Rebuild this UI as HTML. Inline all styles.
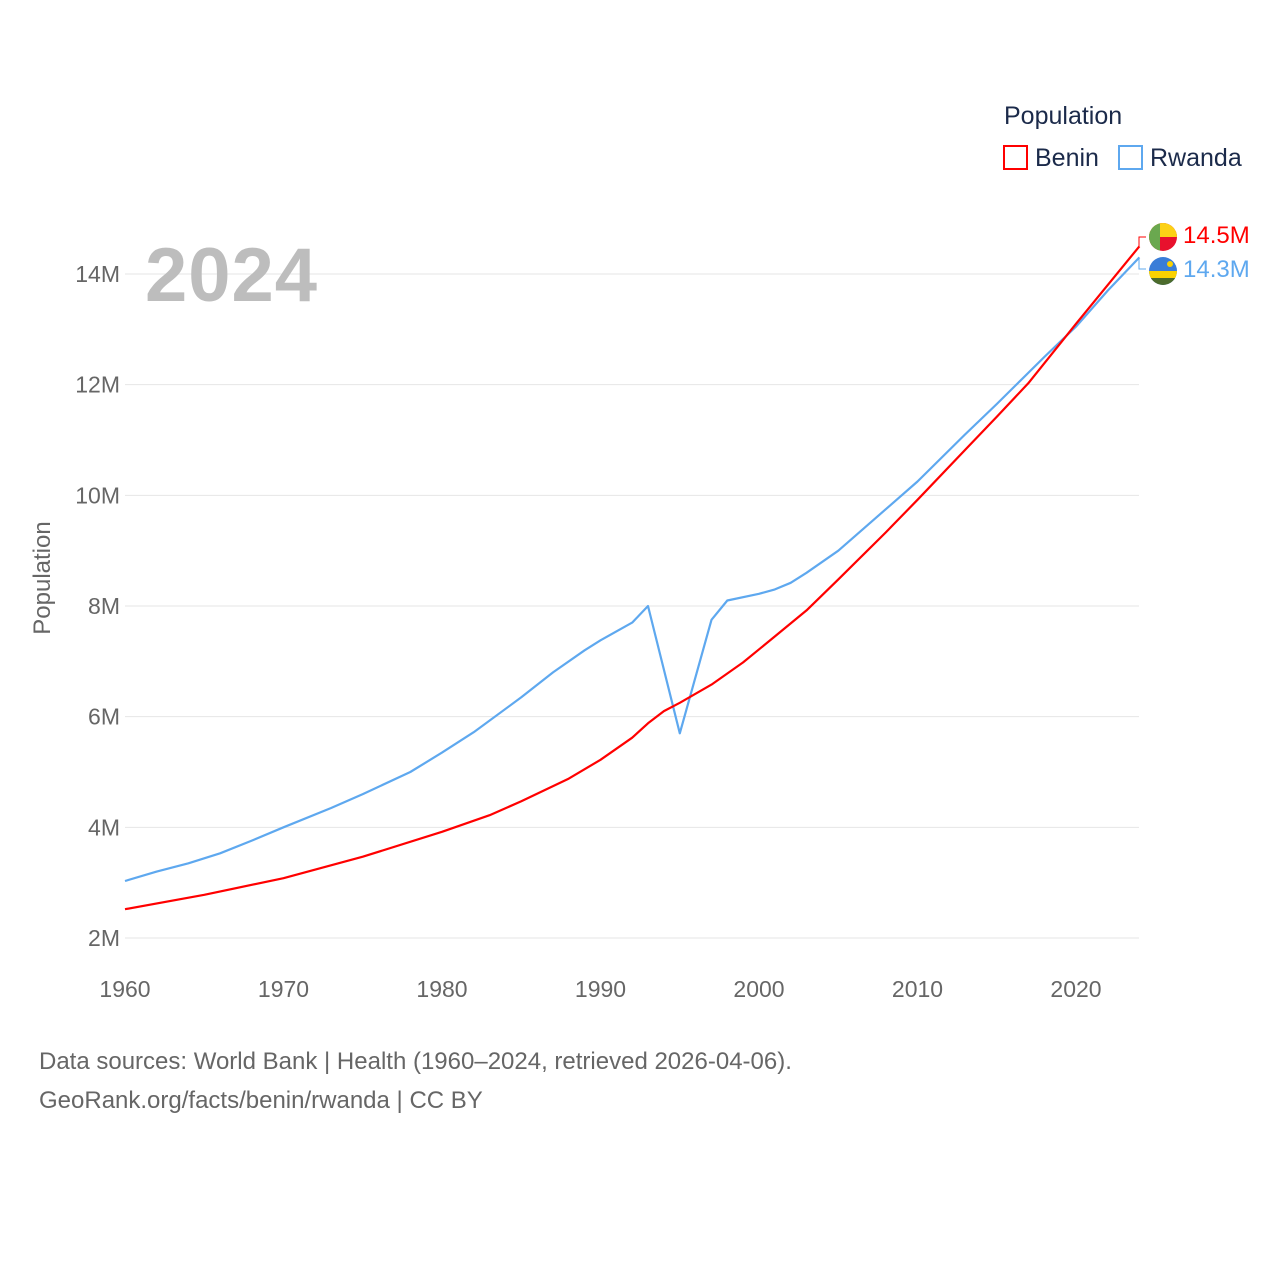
<!DOCTYPE html>
<html><head><meta charset="utf-8"><style>
body{margin:0;background:#fff;font-family:"Liberation Sans",sans-serif}
svg text{font-family:"Liberation Sans",sans-serif}
</style></head><body>
<svg id="chart" width="1280" height="1280" xmlns="http://www.w3.org/2000/svg">
<g id="grid"></g>
<text x="145" y="301" font-size="76" font-weight="bold" fill="#bdbdbd" letter-spacing="1">2024</text>
<text transform="translate(50,578) rotate(-90)" text-anchor="middle" font-size="24" fill="#666">Population</text>
<g id="series"></g>
<g>
<text x="1004" y="124" font-size="25" fill="#1b2a4a">Population</text>
<rect x="1004" y="146" width="23" height="23" fill="none" stroke="#f00" stroke-width="2"/>
<text x="1035" y="166" font-size="25" fill="#1b2a4a">Benin</text>
<rect x="1119" y="146" width="23" height="23" fill="none" stroke="#5ea8ef" stroke-width="2"/>
<text x="1150" y="166" font-size="25" fill="#1b2a4a">Rwanda</text>
</g>
<path d="M1139,246 V237 H1146" fill="none" stroke="#f00" stroke-width="1"/>
<path d="M1139,259 V269 H1146" fill="none" stroke="#5ea8ef" stroke-width="1"/>
<g>
<clipPath id="cb"><circle cx="1163" cy="237" r="14"/></clipPath>
<g clip-path="url(#cb)"><rect x="1149" y="223" width="28" height="28" fill="#e8112d"/><rect x="1149" y="223" width="28" height="14" fill="#fcd116"/><rect x="1149" y="223" width="11" height="28" fill="#6aa84f"/></g>
</g>
<g>
<clipPath id="cr"><circle cx="1163" cy="271" r="14"/></clipPath>
<g clip-path="url(#cr)"><rect x="1149" y="257" width="28" height="28" fill="#3a7dd8"/><rect x="1149" y="271" width="28" height="7" fill="#fad201"/><rect x="1149" y="278" width="28" height="7" fill="#4c6b2c"/><circle cx="1170" cy="264" r="3" fill="#fad201"/></g>
</g>
<text x="1183" y="243" font-size="24" fill="#f00">14.5M</text>
<text x="1183" y="277" font-size="24" fill="#5ea8ef">14.3M</text>
<text x="39" y="1069" font-size="24" fill="#666">Data sources: World Bank | Health (1960–2024, retrieved 2026-04-06).</text>
<text x="39" y="1108" font-size="24" fill="#666">GeoRank.org/facts/benin/rwanda | CC BY</text>
</svg>
<script>
const yTicks=[2,4,6,8,10,12,14];
const yTickLabels=["2M","4M","6M","8M","10M","12M","14M"];
const xTicks=[1960,1970,1980,1990,2000,2010,2020];
const beninYears=[1960,1965,1970,1975,1980,1983,1985,1988,1990,1992,1993,1994,1995,1997,1999,2001,2003,2005,2008,2010,2013,2015,2017,2020,2022,2024];
const beninValues=[2.52,2.78,3.08,3.47,3.92,4.22,4.47,4.88,5.22,5.62,5.88,6.10,6.25,6.58,6.98,7.45,7.92,8.48,9.33,9.92,10.82,11.42,12.03,13.1,13.8,14.5];
const rwandaYears=[1960,1962,1964,1966,1968,1970,1973,1975,1978,1980,1982,1985,1987,1989,1990,1992,1993,1995,1997,1998,2000,2001,2002,2003,2005,2008,2010,2013,2015,2018,2020,2022,2024];
const rwandaValues=[3.03,3.2,3.35,3.53,3.76,4.0,4.35,4.6,5.0,5.35,5.72,6.35,6.8,7.2,7.38,7.7,8.0,5.7,7.75,8.1,8.22,8.3,8.42,8.6,9.0,9.75,10.25,11.1,11.65,12.5,13.05,13.7,14.3];
const NS="http://www.w3.org/2000/svg";
const X=y=>125+(y-1960)*(1076-125)/60;
const Y=v=>938-(v-2)*(938-274)/12;
const grid=document.getElementById('grid');
yTicks.forEach((t,i)=>{
 const l=document.createElementNS(NS,'line');
 l.setAttribute('x1',125);l.setAttribute('x2',1139);l.setAttribute('y1',Y(t));l.setAttribute('y2',Y(t));
 l.setAttribute('stroke','#e6e6e6');
 
 
 grid.appendChild(l);
 const tx=document.createElementNS(NS,'text');
 tx.setAttribute('x',120);tx.setAttribute('y',Y(t)+8);tx.setAttribute('text-anchor','end');
 tx.setAttribute('font-size','23');tx.setAttribute('fill','#666');tx.textContent=yTickLabels[i];
 
 
 grid.appendChild(tx);
});
xTicks.forEach(t=>{
 const tx=document.createElementNS(NS,'text');
 tx.setAttribute('x',X(t));tx.setAttribute('y',997);tx.setAttribute('text-anchor','middle');
 tx.setAttribute('font-size','23');tx.setAttribute('fill','#666');tx.textContent=t;
 
 
 grid.appendChild(tx);
});
const s=document.getElementById('series');
function line(ys,vs,color,name){
 const p=document.createElementNS(NS,'path');
 p.setAttribute('d',ys.map((y,i)=>(i?'L':'M')+X(y).toFixed(1)+','+Y(vs[i]).toFixed(1)).join(''));
 p.setAttribute('fill','none');p.setAttribute('stroke',color);p.setAttribute('stroke-width','2.2');
 p.setAttribute('stroke-linejoin','round');
 
 
 s.appendChild(p);
}
line(rwandaYears,rwandaValues,'#5ea8ef','rwanda-line');
line(beninYears,beninValues,'#f00','benin-line');
</script>
</body></html>
